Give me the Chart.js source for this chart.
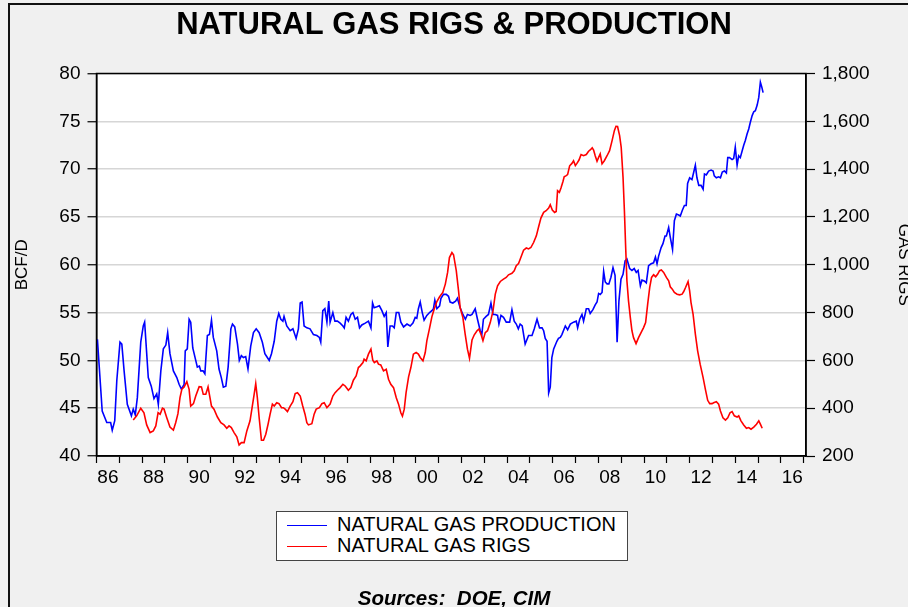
<!DOCTYPE html>
<html>
<head>
<meta charset="utf-8">
<title>Natural Gas Rigs &amp; Production</title>
<script src="https://cdn.jsdelivr.net/npm/chart.js@4.4.1/dist/chart.umd.min.js"></script>
<style>
  html, body { margin: 0; padding: 0; background: #f0f0f0; overflow: hidden; }
  #wrap { position: relative; width: 908px; height: 607px; overflow: hidden; font-family: "Liberation Sans", Arial, sans-serif; }
  #frame { position: absolute; left: 8px; top: 3px; width: 980px; height: 700px; border-left: 2px solid #111; border-top: 2px solid #111; }
  #c { position: absolute; left: 0; top: 0; }
  .legend { position: absolute; left: 276px; top: 511px; width: 350px; height: 48px; background: #fff; border: 1px solid #444; }
  .legend-row { position: absolute; left: 10px; height: 20px; font-size: 20px; line-height: 20px; white-space: nowrap; color: #000; }
  .legend-row i { display: inline-block; width: 40px; height: 0; border-top: 1.5px solid; vertical-align: middle; margin-right: 10px; }
  .source { position: absolute; left: 0; top: 588px; width: 908px; text-align: center; font-size: 20.5px; line-height: 20px; font-weight: bold; font-style: italic; color: #000; }
</style>
</head>
<body>
<div id="wrap">
  <div id="frame"></div>
  <canvas id="c" width="908" height="607"></canvas>
  <div class="legend">
    <div class="legend-row" style="top:2px"><i style="border-color:#0000ff"></i>NATURAL GAS PRODUCTION</div>
    <div class="legend-row" style="top:23px"><i style="border-color:#ff0000"></i>NATURAL GAS RIGS</div>
  </div>
  <div class="source">Sources:&nbsp; DOE, CIM</div>
</div>
<script>
// ── data (decimal years) ──────────────────────────────────────
const prodYears = [
  1986.04, 1986.25, 1986.45, 1986.62, 1986.69, 1986.80, 1986.89, 1987.03, 1987.11, 1987.21, 1987.35, 1987.53, 1987.61, 1987.70, 1987.79, 1987.94,
  1988.05, 1988.11, 1988.27, 1988.40, 1988.52, 1988.64, 1988.71, 1988.82, 1988.93, 1989.04, 1989.12, 1989.22, 1989.37, 1989.52, 1989.62, 1989.72,
  1989.84, 1989.89, 1989.98, 1990.06, 1990.13, 1990.22, 1990.35, 1990.42, 1990.51, 1990.57, 1990.67, 1990.75, 1990.86, 1990.95, 1991.04, 1991.12,
  1991.27, 1991.37, 1991.47, 1991.56, 1991.67, 1991.77, 1991.89, 1991.96, 1992.06, 1992.18, 1992.26, 1992.35, 1992.44, 1992.54, 1992.64, 1992.76,
  1992.88, 1993.00, 1993.13, 1993.27, 1993.38, 1993.46, 1993.57, 1993.67, 1993.79, 1993.90, 1993.99, 1994.08, 1994.17, 1994.22, 1994.34, 1994.49,
  1994.61, 1994.75, 1994.85, 1994.93, 1995.01, 1995.10, 1995.22, 1995.36, 1995.51, 1995.66, 1995.77, 1995.83, 1995.92, 1996.01, 1996.10, 1996.18,
  1996.24, 1996.36, 1996.45, 1996.56, 1996.68, 1996.80, 1996.86, 1996.94, 1997.04, 1997.15, 1997.24, 1997.34, 1997.44, 1997.53, 1997.63, 1997.78,
  1997.92, 1998.03, 1998.10, 1998.17, 1998.29, 1998.40, 1998.51, 1998.61, 1998.70, 1998.77, 1998.87, 1998.97, 1999.05, 1999.14, 1999.25, 1999.34,
  1999.46, 1999.61, 1999.75, 1999.87, 1999.97, 2000.04, 2000.11, 2000.19, 2000.28, 2000.36, 2000.48, 2000.60, 2000.70, 2000.77, 2000.83, 2000.92,
  2001.04, 2001.10, 2001.21, 2001.33, 2001.43, 2001.50, 2001.62, 2001.74, 2001.82, 2001.94, 2002.06, 2002.17, 2002.26, 2002.38, 2002.46, 2002.60,
  2002.70, 2002.82, 2002.89, 2002.96, 2003.08, 2003.18, 2003.29, 2003.38, 2003.48, 2003.58, 2003.64, 2003.73, 2003.84, 2003.96, 2004.11, 2004.21,
  2004.31, 2004.40, 2004.49, 2004.57, 2004.66, 2004.79, 2004.94, 2005.09, 2005.19, 2005.31, 2005.42, 2005.53, 2005.60, 2005.67, 2005.75, 2005.82,
  2005.89, 2005.96, 2006.04, 2006.18, 2006.25, 2006.33, 2006.40, 2006.55, 2006.65, 2006.77, 2006.91, 2007.03, 2007.09, 2007.18, 2007.28, 2007.35,
  2007.47, 2007.57, 2007.64, 2007.76, 2007.86, 2007.94, 2008.01, 2008.08, 2008.16, 2008.23, 2008.30, 2008.38, 2008.46, 2008.55, 2008.64, 2008.73,
  2008.82, 2008.90, 2008.99, 2009.08, 2009.17, 2009.25, 2009.37, 2009.47, 2009.57, 2009.66, 2009.74, 2009.84, 2009.91, 2010.01, 2010.10, 2010.20,
  2010.31, 2010.42, 2010.50, 2010.57, 2010.64, 2010.75, 2010.83, 2010.92, 2010.98, 2011.08, 2011.15, 2011.25, 2011.33, 2011.42, 2011.52, 2011.59,
  2011.68, 2011.77, 2011.85, 2011.91, 2012.00, 2012.10, 2012.18, 2012.25, 2012.32, 2012.40, 2012.50, 2012.59, 2012.65, 2012.73, 2012.83, 2012.94,
  2013.03, 2013.08, 2013.17, 2013.27, 2013.35, 2013.43, 2013.52, 2013.61, 2013.67, 2013.75, 2013.86, 2013.93, 2014.00, 2014.08, 2014.15, 2014.22,
  2014.30, 2014.37, 2014.44, 2014.52, 2014.59, 2014.66, 2014.74, 2014.81, 2014.88, 2014.96, 2015.03, 2015.10, 2015.16, 2015.22,
];
const prodBcfd = [
  52.2, 44.7, 43.5, 43.5, 42.7, 43.7, 47.9, 51.9, 51.7, 48.9, 45.4, 44.2, 44.9, 44.3, 46.1, 51.9,
  53.6, 54.0, 48.2, 47.3, 46.0, 46.5, 45.4, 48.9, 51.2, 51.6, 52.9, 50.7, 48.9, 48.2, 47.5, 47.0,
  47.5, 51.0, 51.2, 54.3, 54.0, 51.3, 50.0, 49.3, 49.4, 48.9, 48.9, 48.6, 52.6, 52.7, 54.2, 52.4,
  51.0, 49.1, 48.2, 47.2, 47.3, 49.3, 53.3, 53.8, 53.5, 51.7, 50.0, 50.5, 50.3, 50.4, 49.1, 51.5,
  52.9, 53.3, 52.9, 51.9, 50.7, 50.4, 50.0, 50.7, 52.0, 54.1, 54.9, 54.3, 54.1, 54.6, 53.6, 53.1,
  53.3, 52.3, 53.3, 56.0, 56.1, 53.6, 53.4, 53.3, 52.7, 52.6, 52.4, 51.9, 55.2, 55.4, 54.0, 56.2,
  54.0, 55.0, 54.1, 54.1, 53.9, 53.6, 53.4, 54.5, 54.1, 54.8, 55.0, 54.3, 54.5, 53.4, 53.7, 53.9,
  54.1, 53.4, 56.0, 55.5, 55.6, 55.7, 55.2, 54.6, 55.0, 51.4, 53.6, 53.6, 53.4, 55.0, 55.0, 54.0,
  53.5, 53.8, 53.6, 53.9, 54.5, 54.4, 55.4, 56.1, 55.0, 54.2, 54.7, 55.0, 55.2, 55.4, 56.3, 55.4,
  55.7, 56.5, 56.9, 56.9, 56.7, 56.1, 56.0, 56.2, 56.5, 55.5, 54.8, 54.3, 54.8, 54.7, 54.8, 55.4,
  54.3, 53.1, 52.7, 54.3, 54.6, 54.8, 56.0, 54.8, 54.8, 54.7, 53.8, 54.7, 54.5, 54.0, 54.0, 55.3,
  54.1, 53.8, 53.3, 53.8, 53.6, 51.7, 52.6, 52.6, 53.3, 54.3, 53.4, 53.4, 53.1, 52.3, 52.0, 46.6,
  47.2, 50.3, 51.2, 52.0, 52.3, 52.4, 52.7, 53.6, 53.2, 53.8, 54.0, 54.1, 53.4, 54.3, 54.8, 54.1,
  55.4, 55.4, 54.9, 55.3, 55.8, 56.1, 57.0, 56.9, 57.1, 59.3, 58.2, 58.0, 58.0, 58.7, 59.7, 58.9,
  51.9, 56.2, 58.5, 59.0, 60.4, 60.6, 59.6, 59.4, 59.6, 59.2, 59.4, 57.8, 58.4, 58.3, 58.1, 59.9,
  60.1, 60.2, 60.8, 60.1, 60.9, 61.8, 62.2, 63.0, 63.0, 63.9, 62.9, 61.6, 64.6, 65.3, 65.2, 65.1,
  65.7, 66.2, 66.2, 68.5, 69.1, 68.9, 69.7, 70.4, 69.1, 68.3, 68.3, 67.9, 69.5, 69.4, 69.8, 69.9,
  69.8, 69.3, 69.1, 69.2, 69.1, 69.7, 69.8, 69.6, 71.2, 71.2, 71.0, 71.1, 72.3, 70.4, 71.4, 71.2,
  71.9, 72.5, 73.0, 73.7, 74.2, 74.9, 75.6, 76.0, 76.1, 76.7, 77.5, 79.1, 78.6, 78.0,
];

const rigYears = [
  1987.61, 1987.76, 1987.94, 1988.08, 1988.20, 1988.35, 1988.49, 1988.60, 1988.70, 1988.79, 1988.89, 1988.96, 1989.08, 1989.22, 1989.37, 1989.47,
  1989.57, 1989.66, 1989.74, 1989.84, 1989.96, 1990.06, 1990.13, 1990.25, 1990.35, 1990.50, 1990.60, 1990.68, 1990.79, 1990.89, 1991.04, 1991.15,
  1991.30, 1991.45, 1991.59, 1991.71, 1991.81, 1991.91, 1992.03, 1992.15, 1992.25, 1992.35, 1992.47, 1992.59, 1992.73, 1992.83, 1992.91, 1992.98,
  1993.05, 1993.13, 1993.23, 1993.32, 1993.42, 1993.52, 1993.61, 1993.71, 1993.79, 1993.90, 1994.00, 1994.11, 1994.19, 1994.27, 1994.37, 1994.49,
  1994.61, 1994.71, 1994.81, 1994.93, 1995.04, 1995.14, 1995.22, 1995.29, 1995.44, 1995.54, 1995.63, 1995.77, 1995.88, 1995.98, 1996.10, 1996.24,
  1996.36, 1996.46, 1996.56, 1996.68, 1996.80, 1996.90, 1997.04, 1997.15, 1997.26, 1997.38, 1997.48, 1997.56, 1997.68, 1997.73, 1997.82, 1997.92,
  1998.03, 1998.11, 1998.18, 1998.29, 1998.36, 1998.46, 1998.58, 1998.70, 1998.80, 1998.90, 1999.02, 1999.14, 1999.24, 1999.34, 1999.41, 1999.49,
  1999.57, 1999.68, 1999.78, 1999.89, 2000.01, 2000.11, 2000.19, 2000.31, 2000.41, 2000.48, 2000.60, 2000.70, 2000.80, 2000.92, 2001.04, 2001.18,
  2001.29, 2001.39, 2001.47, 2001.58, 2001.65, 2001.77, 2001.87, 2001.94, 2002.06, 2002.16, 2002.26, 2002.35, 2002.46, 2002.56, 2002.68, 2002.76,
  2002.85, 2002.94, 2003.04, 2003.14, 2003.26, 2003.38, 2003.48, 2003.58, 2003.70, 2003.84, 2003.96, 2004.06, 2004.21, 2004.31, 2004.40, 2004.50,
  2004.60, 2004.72, 2004.84, 2004.94, 2005.04, 2005.16, 2005.28, 2005.38, 2005.48, 2005.60, 2005.71, 2005.82, 2005.89, 2005.98, 2006.08, 2006.15,
  2006.21, 2006.29, 2006.36, 2006.45, 2006.50, 2006.59, 2006.65, 2006.74, 2006.84, 2006.91, 2006.99, 2007.06, 2007.15, 2007.24, 2007.35, 2007.47,
  2007.56, 2007.64, 2007.73, 2007.79, 2007.86, 2007.94, 2008.01, 2008.08, 2008.16, 2008.26, 2008.38, 2008.49, 2008.60, 2008.70, 2008.77, 2008.84,
  2008.93, 2009.00, 2009.08, 2009.14, 2009.19, 2009.25, 2009.32, 2009.40, 2009.47, 2009.54, 2009.65, 2009.76, 2009.87, 2009.98, 2010.07, 2010.16,
  2010.25, 2010.33, 2010.42, 2010.51, 2010.60, 2010.68, 2010.76, 2010.86, 2010.98, 2011.08, 2011.15, 2011.24, 2011.33, 2011.45, 2011.56, 2011.67,
  2011.74, 2011.82, 2011.93, 2012.00, 2012.06, 2012.15, 2012.25, 2012.35, 2012.46, 2012.59, 2012.69, 2012.79, 2012.88, 2012.98, 2013.05, 2013.17,
  2013.27, 2013.35, 2013.46, 2013.57, 2013.67, 2013.77, 2013.86, 2013.96, 2014.08, 2014.15, 2014.25, 2014.37, 2014.49, 2014.59, 2014.69, 2014.81,
  2014.93, 2015.03, 2015.10, 2015.18,
];
const rigCount = [
  351, 368, 400, 381, 330, 298, 305, 326, 381, 375, 400, 396, 360, 321, 308, 339,
  377, 444, 479, 489, 511, 479, 409, 419, 451, 490, 489, 458, 458, 489, 409, 396,
  363, 339, 330, 316, 326, 319, 298, 280, 246, 256, 256, 305, 347, 409, 458, 503,
  444, 360, 266, 266, 291, 333, 375, 417, 409, 423, 419, 402, 402, 396, 386, 409,
  427, 461, 465, 451, 409, 375, 339, 330, 335, 375, 396, 402, 419, 423, 402, 417,
  451, 465, 475, 486, 500, 493, 475, 486, 517, 535, 570, 577, 591, 605, 598, 626,
  647, 601, 591, 598, 584, 581, 556, 563, 521, 500, 486, 444, 417, 381, 367, 396,
  465, 531, 570, 626, 633, 626, 612, 598, 633, 682, 735, 782, 814, 846, 866, 884,
  919, 968, 1030, 1051, 1042, 975, 891, 821, 779, 710, 647, 609, 685, 707, 724, 731,
  710, 682, 716, 724, 758, 807, 877, 912, 930, 940, 947, 958, 964, 975, 996, 1005,
  1030, 1061, 1070, 1066, 1072, 1093, 1121, 1159, 1195, 1219, 1226, 1237, 1251, 1229, 1219, 1223,
  1310, 1303, 1321, 1349, 1368, 1373, 1377, 1414, 1424, 1435, 1415, 1424, 1438, 1461, 1456, 1461,
  1474, 1480, 1489, 1480, 1456, 1433, 1449, 1464, 1422, 1435, 1456, 1477, 1519, 1561, 1579, 1578,
  1540, 1491, 1366, 1226, 1087, 933, 849, 779, 724, 695, 670, 695, 716, 737, 758, 835,
  905, 947, 958, 950, 961, 975, 978, 968, 947, 933, 908, 898, 884, 877, 874, 877,
  888, 905, 930, 891, 842, 793, 710, 640, 584, 528, 479, 433, 419, 419, 423, 427,
  417, 388, 360, 350, 360, 381, 386, 368, 363, 368, 347, 330, 316, 319, 312, 321,
  333, 347, 333, 316,
];

// axis ticks
const xTickYears = [];                       // one mark per year
for (let yr = 1986; yr <= 2017; yr++) xTickYears.push(yr);
const xLabelYears = [1986, 1988, 1990, 1992, 1994, 1996, 1998, 2000, 2002, 2004, 2006, 2008, 2010, 2012, 2014, 2016];
const xTickLabels = ['86', '88', '90', '92', '94', '96', '98', '00', '02', '04', '06', '08', '10', '12', '14', '16'];
const leftTicks = [40, 45, 50, 55, 60, 65, 70, 75, 80];
const rightTicks = [200, 400, 600, 800, 1000, 1200, 1400, 1600, 1800];

const FONT = '"Liberation Sans", Arial, Helvetica, sans-serif';
Chart.defaults.font.family = FONT;
Chart.defaults.color = '#000';

function pts(xs, ys) { return xs.map((x, i) => ({ x, y: ys[i] })); }
function setTicks(list) { return scale => { scale.ticks = list.map(v => ({ value: v })); }; }

// white plot area underneath, black box on top
const plotFrame = {
  id: 'plotFrame',
  beforeDraw(chart) {
    const { ctx, chartArea: a } = chart;
    ctx.save();
    ctx.fillStyle = '#fff';
    ctx.fillRect(a.left, a.top, a.right - a.left, a.bottom - a.top);
    ctx.restore();
  },
  afterDraw(chart) {
    const { ctx, chartArea: a } = chart;
    ctx.save();
    ctx.strokeStyle = '#000';
    ctx.lineWidth = 1.5;
    ctx.strokeRect(a.left, a.top, a.right - a.left, a.bottom - a.top);
    ctx.restore();
  },
};

new Chart(document.getElementById('c'), {
  type: 'line',
  data: {
    datasets: [
      { label: 'NATURAL GAS PRODUCTION', data: pts(prodYears, prodBcfd), yAxisID: 'y',
        borderColor: '#0000ff', borderWidth: 1.6, pointRadius: 0, tension: 0, order: 1 },
      { label: 'NATURAL GAS RIGS', data: pts(rigYears, rigCount), yAxisID: 'y1',
        borderColor: '#ff0000', borderWidth: 1.6, pointRadius: 0, tension: 0, order: 0 },
    ],
  },
  options: {
    responsive: false, animation: false, events: [],
    layout: { padding: 0 },
    plugins: {
      legend: { display: false },
      tooltip: { enabled: false },
      title: {
        display: true, text: 'NATURAL GAS RIGS & PRODUCTION', color: '#000',
        font: { size: 31, weight: 'bold' }, padding: { top: 6.5, bottom: 29.8 },
      },
    },
    scales: {
      x: {
        type: 'linear', min: 1986, max: 2017.1,
        afterBuildTicks: setTicks(xTickYears),
        afterFit: s => { s.height = 151; },
        ticks: {
          autoSkip: false, maxRotation: 0, minRotation: 0, labelOffset: 11.4, padding: 3,
          font: { size: 19 },
          callback: v => { const k = xLabelYears.indexOf(v); return k < 0 ? '' : xTickLabels[k]; },
        },
        grid: { drawOnChartArea: false, tickLength: 7, tickColor: '#000', tickWidth: 1.2 },
        border: { color: '#000', width: 1.5 },
      },
      y: {
        position: 'left', min: 40, max: 80,
        afterBuildTicks: setTicks(leftTicks),
        afterFit: s => { s.width = 96.5; },
        ticks: { font: { size: 19 }, padding: 7 },
        grid: { color: '#d6d6d6', lineWidth: 1.5, tickLength: 9, tickColor: '#000', tickWidth: 1.2 },
        border: { color: '#000', width: 1.5 },
        title: { display: true, text: 'BCF/D', font: { size: 17 }, padding: { top: 12, bottom: 0 } },
      },
      y1: {
        position: 'right', min: 200, max: 1800,
        afterBuildTicks: setTicks(rightTicks),
        afterFit: s => { s.width = 102; },
        ticks: { font: { size: 19 }, padding: 7, callback: v => v.toLocaleString('en-US') },
        grid: { drawOnChartArea: false, tickLength: 9, tickColor: '#000', tickWidth: 1.2 },
        border: { color: '#000', width: 1.5 },
        title: { display: true, text: 'GAS RIGS', font: { size: 17 }, padding: { top: -6, bottom: 0 } },
      },
    },
  },
  plugins: [plotFrame],
});
</script>
</body>
</html>
